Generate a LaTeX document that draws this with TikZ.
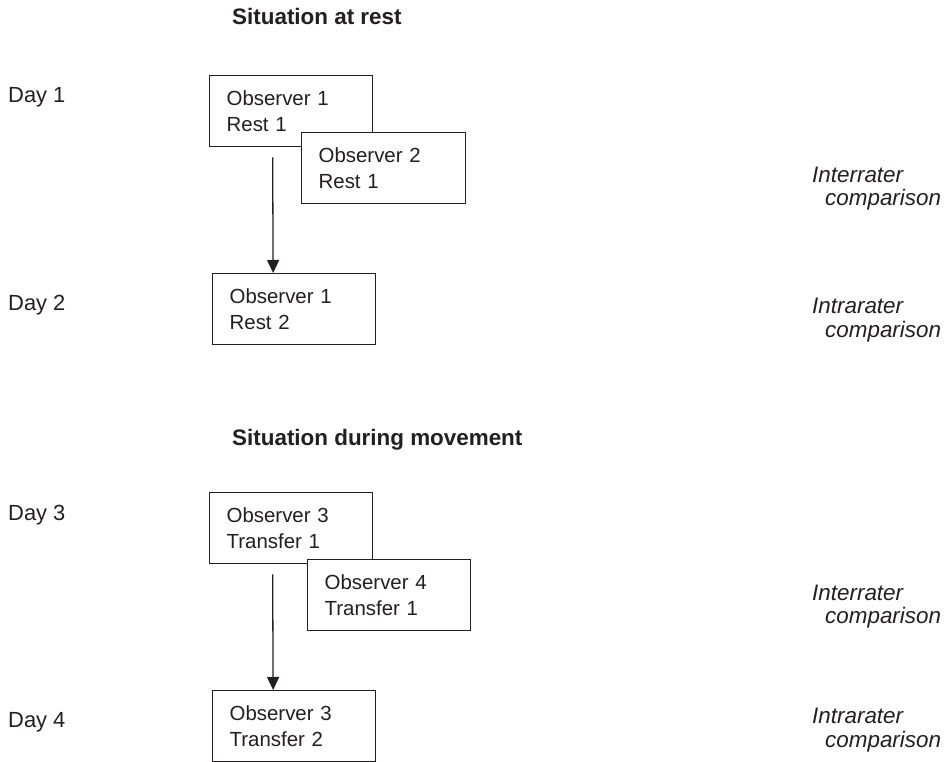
\documentclass[tikz,border=0pt]{standalone}
\usepackage{fontspec}
\setmainfont{Liberation Sans}
\usetikzlibrary{arrows.meta}
\definecolor{ink}{RGB}{35,31,32}
\begin{document}
\begin{tikzpicture}[x=1bp,y=-1bp,
  obsbox/.style={draw=ink, line width=1.3bp, fill=white, anchor=north west,
    minimum width=163bp, minimum height=71bp, text width=129bp, inner xsep=17bp,
    inner ysep=0pt, align=left, text=ink, font={\fontsize{20.5}{27}\selectfont}},
  title/.style={anchor=base west, inner sep=0pt, text=ink, font={\fontsize{22.5}{27}\selectfont\bfseries}},
  daylbl/.style={anchor=base west, inner sep=0pt, text=ink, font={\fontsize{22}{27}\selectfont}},
  cmp/.style={anchor=base west, inner sep=0pt, text=ink, font={\fontsize{22.5}{27}\selectfont\itshape}},
  arr/.style={draw=ink, line width=1.3bp, -{Triangle[width=12bp,length=13bp]}}]
\useasboundingbox (0,0) rectangle (952,762);
% titles
\node[title] (t1) at (232,25) {Situation at rest};
\node[title] (t2) at (232,445) {Situation during movement};
% day labels
\node[daylbl] (d1) at (8,102) {Day 1};
\node[daylbl] (d2) at (8,310) {Day 2};
\node[daylbl] (d3) at (8,520) {Day 3};
\node[daylbl] (d4) at (8,727) {Day 4};
% upper boxes
\node[obsbox] (o1) at (209,75) {Observer 1\\Rest 1};
\node[obsbox, minimum width=164bp, text width=130bp] (o2) at (301,132) {Observer 2\\Rest 1};
\node[obsbox] (o3) at (212,273) {Observer 1\\Rest 2};
\draw[arr] ([xshift=-18.5bp,yshift=-10bp]o1.south) -- ([xshift=-21bp]o3.north);
% lower boxes
\node[obsbox] (o4) at (209,492) {Observer 3\\Transfer 1};
\node[obsbox] (o5) at (307,559) {Observer 4\\Transfer 1};
\node[obsbox] (o6) at (212,690) {Observer 3\\Transfer 2};
\draw[arr] ([xshift=-18.5bp,yshift=-10bp]o4.south) -- ([xshift=-21bp]o6.north);
% comparison labels
\node[cmp] (c1a) at (812,182) {Interrater};
\node[cmp] (c1b) at (825,205) {comparison};
\node[cmp] (c2a) at (812,313) {Intrarater};
\node[cmp] (c2b) at (825,337) {comparison};
\node[cmp] (c3a) at (812,600) {Interrater};
\node[cmp] (c3b) at (825,623) {comparison};
\node[cmp] (c4a) at (812,723) {Intrarater};
\node[cmp] (c4b) at (825,747) {comparison};
\end{tikzpicture}
\end{document}
